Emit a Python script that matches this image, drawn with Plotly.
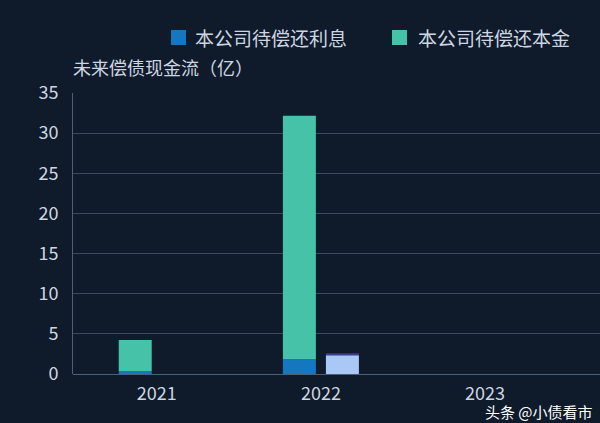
import plotly.graph_objects as go

years = ["2021", "2022", "2023"]
interest = [0.33, 1.87, 0]
principal = [3.9, 30.3, 0]
other_base = [0, 2.32, 0]
other_top = [0, 0.25, 0]
legend_names = ["本公司待偿还利息", "本公司待偿还本金"]

bg = "#0f1a2b"
txt = "#cdd6e0"
font_family = "Noto Sans CJK SC, Noto Sans, sans-serif"
c_int, c_pri = "#1577c0", "#46c2a9"

fig = go.Figure()
fig.add_trace(go.Bar(x=years, y=interest, name=legend_names[0], marker_color=c_int,
                     offsetgroup="a", marker_line_width=0))
fig.add_trace(go.Bar(x=years, y=principal, name=legend_names[1], marker_color=c_pri,
                     offsetgroup="a", base=interest, marker_line_width=0))
fig.add_trace(go.Bar(x=years, y=other_base, name="其他1", marker_color="#a9c8f6",
                     offsetgroup="b", marker_line_width=0))
fig.add_trace(go.Bar(x=years, y=other_top, name="其他2", marker_color="#3b3e93",
                     offsetgroup="b", base=other_base, marker_line_width=0))

# plot area: x 73..600, y 93..374 (px)
L, R, T, B = 73, 600, 93, 374
W, H = R - L, B - T
def px(x): return (x - L) / W
def py(y): return (B - y) / H

shapes = []
annotations = []
for i, (x0, tx) in enumerate([(171, 193), (392, 416)]):
    shapes.append(dict(type="rect", xref="paper", yref="paper",
                       x0=px(x0), x1=px(x0 + 15), y0=py(45), y1=py(30),
                       fillcolor=[c_int, c_pri][i], line_width=0))
    annotations.append(dict(text=legend_names[i], xref="paper", yref="paper",
                            x=px(tx), xanchor="left", y=py(37.5), yanchor="middle",
                            showarrow=False, font=dict(size=19, color=txt)))
annotations.append(dict(text="未来偿债现金流（亿）", xref="paper", yref="paper",
                        x=px(71), xanchor="left", y=py(67), yanchor="middle",
                        showarrow=False, font=dict(size=18, color=txt)))
annotations.append(dict(text="头条 @小债看市", xref="paper", yref="paper",
                        x=px(594), xanchor="right", y=py(423), yanchor="bottom",
                        showarrow=False, font=dict(size=15, color="#ffffff"), borderpad=0))

fig.update_layout(
    width=600, height=423,
    paper_bgcolor=bg, plot_bgcolor=bg,
    margin=dict(l=L, r=600 - R, t=T, b=423 - B, pad=0),
    barmode="group", bargap=0.476, bargroupgap=0.233,
    font=dict(family=font_family, color=txt, size=18),
    showlegend=False,
    shapes=shapes, annotations=annotations,
)

fig.update_yaxes(range=[0, 35], dtick=5, gridcolor="#3a4b5e", gridwidth=1,
                 zeroline=True, zerolinecolor="#4d6074", zerolinewidth=1,
                 showline=True, linecolor="#4d6074", linewidth=1,
                 tickfont=dict(size=18, color=txt), ticks="", ticklabelstandoff=10)
fig.update_xaxes(showgrid=False, showline=False, ticks="", range=[-0.51, 2.70],
                 tickfont=dict(size=18, color=txt), ticklabelstandoff=7)

fig.write_html("out.html", config={"displayModeBar": False},
               post_script="document.body.style.margin='0';document.body.style.overflow='hidden';")
